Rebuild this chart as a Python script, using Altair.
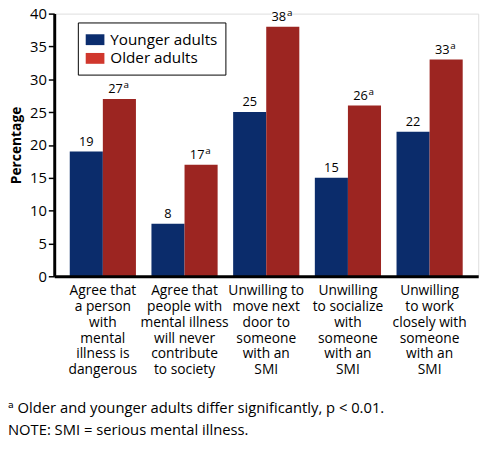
import altair as alt
import pandas as pd

categories = [
    "Agree that|a person|with|mental|illness is|dangerous",
    "Agree that|people with|mental illness|will never|contribute|to society",
    "Unwilling to|move next|door to|someone|with an|SMI",
    "Unwilling|to socialize|with|someone|with an|SMI",
    "Unwilling|to work|closely with|someone|with an|SMI",
]
groups = ["Younger adults", "Older adults"]
younger = [19, 8, 25, 15, 22]
older = [27, 17, 38, 26, 33]
older_sig = ["a", "a", "a", "a", "a"]

bar_colors = ["#0b2c6b", "#9c2521"]
legend_colors = ["#0b2d6e", "#d0372d"]

rows = []
for i, c in enumerate(categories):
    rows.append({"category": c, "group": groups[0], "value": younger[i], "label": str(younger[i]), "sup": ""})
    rows.append({"category": c, "group": groups[1], "value": older[i], "label": str(older[i]), "sup": older_sig[i]})
df = pd.DataFrame(rows)

FONT = "Open Sans"

x_enc = alt.X(
    "category:N",
    sort=categories,
    scale=alt.Scale(paddingInner=0.19, paddingOuter=0.19),
    axis=alt.Axis(
        title=None,
        labelAngle=0,
        labelExpr="split(datum.label, '|')",
        labelFont=FONT,
        labelFontSize=14,
        labelColor="black",
        labelLineHeight=16,
        labelBaseline="top",
        labelPadding=8,
        ticks=False,
        domainColor="black",
        domainWidth=3,
        labelLimit=200,
        labelOverlap=False,
        zindex=1,
    ),
)
xoff = alt.XOffset("group:N", sort=groups, scale=alt.Scale(paddingInner=0, paddingOuter=0))
y_enc = alt.Y(
    "value:Q",
    scale=alt.Scale(domain=[0, 40], nice=False),
    axis=alt.Axis(
        title="Percentage",
        titleFont=FONT,
        titleFontSize=14,
        titleFontWeight="bold",
        titleColor="black",
        titlePadding=6,
        values=[0, 5, 10, 15, 20, 25, 30, 35, 40],
        labelOverlap=False,
        labelFont=FONT,
        labelFontSize=15,
        labelColor="black",
        labelPadding=2,
        tickColor="black",
        tickSize=6,
        tickWidth=1.5,
        domainColor="black",
        domainWidth=3,
        grid=False,
        zindex=1,
    ),
)

base = alt.Chart(df)

bars = base.mark_bar().encode(
    x=x_enc,
    xOffset=xoff,
    y=y_enc,
    color=alt.Color("group:N", sort=groups, scale=alt.Scale(domain=groups, range=bar_colors), legend=None),
)

legend_layer = base.mark_bar(opacity=0).encode(
    x=x_enc,
    xOffset=xoff,
    y=y_enc,
    fill=alt.Fill(
        "group:N",
        sort=groups,
        scale=alt.Scale(domain=groups, range=legend_colors),
        legend=alt.Legend(
            title=None,
            orient="none",
            legendX=24,
            legendY=9,
            padding=8,
            strokeColor="black",
            fillColor="white",
            symbolType="M-1,-0.58H1V0.58H-1Z",
            symbolSize=361,
            symbolStrokeWidth=0,
            labelFont=FONT,
            labelFontSize=15.5,
            labelColor="black",
            labelOffset=6,
            rowPadding=1,
        ),
    ),
)

sig = base.transform_filter(alt.datum.sup != "")
nonsig = base.transform_filter(alt.datum.sup == "")

halo_older = sig.mark_text(
    baseline="bottom", dy=-3, dx=-1, font=FONT, fontSize=13, stroke="white", strokeWidth=6, color="white"
).encode(x=x_enc, xOffset=xoff, y=y_enc, text="label:N")
num_older = sig.mark_text(
    baseline="bottom", dy=-3, dx=-4, font=FONT, fontSize=13, color="black"
).encode(x=x_enc, xOffset=xoff, y=y_enc, text="label:N")
sup_text = sig.mark_text(
    baseline="bottom", dy=-9, dx=7, font=FONT, fontSize=10, color="black"
).encode(x=x_enc, xOffset=xoff, y=y_enc, text="sup:N")
num_younger = nonsig.mark_text(
    baseline="bottom", dy=-3, font=FONT, fontSize=13, color="black"
).encode(x=x_enc, xOffset=xoff, y=y_enc, text="label:N")

chart = (
    alt.layer(bars, legend_layer, halo_older, num_older, num_younger, sup_text)
    .resolve_scale(color="independent", fill="independent")
    .properties(
        width=431,
        height=267,
        autosize=alt.AutoSizeParams(type="none"),
        padding={"left": 47, "top": 2, "right": 14, "bottom": 180},
        title=alt.TitleParams(
            text=["\u1d43 Older and younger adults differ significantly, p < 0.01.", "NOTE: SMI = serious mental illness."],
            orient="bottom",
            anchor="start",
            frame="group",
            dx=-47,
            offset=25,
            font="Open Sans, DejaVu Sans",
            fontSize=15,
            fontWeight="normal",
            color="black",
            lineHeight=22,
        ),
    )
    .configure_view(stroke="#555555", strokeWidth=1)
    .configure(background="white")
)

chart.save("out.html", embed_options={"renderer": "svg", "actions": False})
